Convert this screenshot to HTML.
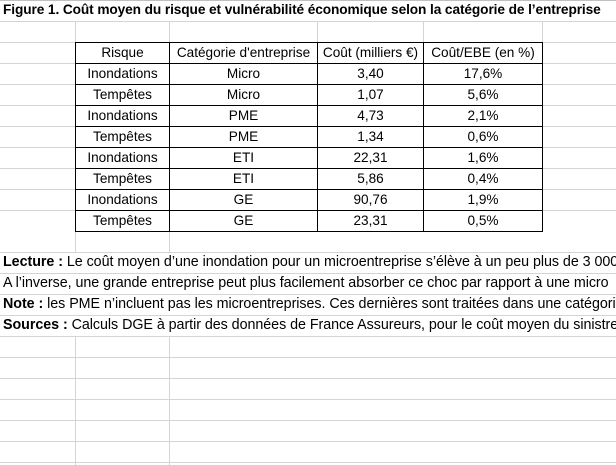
<!DOCTYPE html>
<html><head><meta charset="utf-8"><style>
body{margin:0;width:616px;height:465px;overflow:hidden;background:#fff;font-family:"Liberation Sans",sans-serif;font-size:13px;color:#000;position:relative}
.h{position:absolute;left:0;width:616px;height:1px;background:#d4d4d4}
.v{position:absolute;width:1px;background:#d4d4d4}
.t{position:absolute;white-space:nowrap}
table{position:absolute;left:75px;top:42px;border-collapse:collapse}
td{border:1px solid #000;height:20px;padding:0;text-align:center;font-size:13.6px;line-height:20px;overflow:hidden;white-space:nowrap}
.n{font-size:14.3px;letter-spacing:-0.05px}
</style></head><body>
<div class="h" style="top:21px"></div><div class="h" style="top:0;background:#c0c0c0"></div>
<div class="v" style="left:75px;top:21px;height:21px"></div><div class="v" style="left:169px;top:21px;height:21px"></div>
<div class="v" style="left:317px;top:21px;height:21px"></div><div class="v" style="left:423px;top:21px;height:21px"></div>
<div class="v" style="left:542px;top:21px;height:21px"></div>
<script>
for(const y of [42,63,84,105,126,147,168,189,210,252,273,294,315,336,357,378,399,420,441,462]){document.write('<div class="h" style="top:'+y+'px"></div>')}
for(const x of [75,169]){document.write('<div class="v" style="left:'+x+'px;top:231px;height:21px"></div><div class="v" style="left:'+x+'px;top:336px;height:129px"></div>')}
</script>
<div class="t" style="left:3px;top:2px;font-weight:bold;font-size:13.7px;letter-spacing:-0.1px">Figure 1. Coût moyen du risque et vulnérabilité économique selon la catégorie de l’entreprise</div>
<table>
<tr><td style="width:93px">Risque</td><td style="width:147px">Catégorie d'entreprise</td><td style="width:105px">Coût (milliers €)</td><td style="width:118px">Coût/EBE (en %)</td></tr>
<tr><td>Inondations</td><td>Micro</td><td>3,40</td><td>17,6%</td></tr>
<tr><td>Tempêtes</td><td>Micro</td><td>1,07</td><td>5,6%</td></tr>
<tr><td>Inondations</td><td>PME</td><td>4,73</td><td>2,1%</td></tr>
<tr><td>Tempêtes</td><td>PME</td><td>1,34</td><td>0,6%</td></tr>
<tr><td>Inondations</td><td>ETI</td><td>22,31</td><td>1,6%</td></tr>
<tr><td>Tempêtes</td><td>ETI</td><td>5,86</td><td>0,4%</td></tr>
<tr><td>Inondations</td><td>GE</td><td>90,76</td><td>1,9%</td></tr>
<tr><td>Tempêtes</td><td>GE</td><td>23,31</td><td>0,5%</td></tr>
</table>
<div class="t n" style="left:3px;top:254px;background:#fff;width:613px;height:18px"><b>Lecture :</b> Le coût moyen d’une inondation pour un microentreprise s’élève à un peu plus de 3 000</div>
<div class="t n" style="left:3px;top:275px;background:#fff;width:613px;height:18px">A l’inverse, une grande entreprise peut plus facilement absorber ce choc par rapport à une micro</div>
<div class="t n" style="left:3px;top:296px;background:#fff;width:613px;height:18px"><b>Note :</b> les PME n’incluent pas les microentreprises. Ces dernières sont traitées dans une catégorie</div>
<div class="t n" style="left:3px;top:317px;background:#fff;width:613px;height:18px"><b>Sources :</b> Calculs DGE à partir des données de France Assureurs, pour le coût moyen du sinistre e</div>
</body></html>
